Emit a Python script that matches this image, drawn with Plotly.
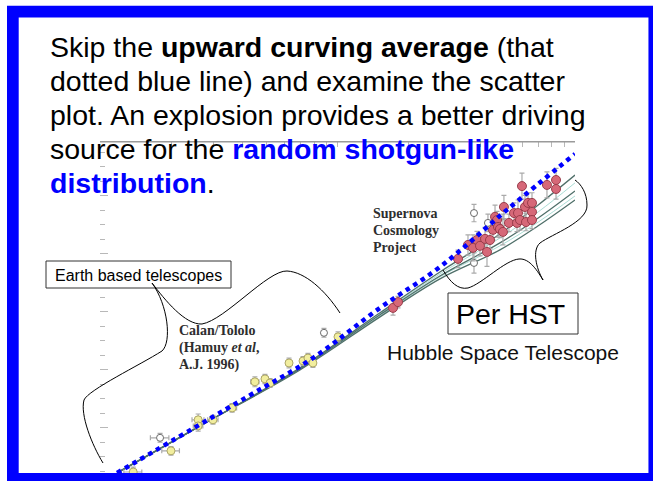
import plotly.graph_objects as go

W, H = 653, 481

# Calan/Tololo (Hamuy et al. 1996): красное смещение и эффективная величина
ct_z = [0.0138, 0.0199, 0.0259, 0.0259, 0.0299, 0.0360, 0.0449, 0.0495, 0.0520,
        0.0625, 0.0716, 0.0751, 0.0788, 0.1005]
ct_m = [14.48, 15.21, 16.28, 16.07, 16.28, 16.69, 17.59, 17.69, 17.55,
        18.24, 18.31, 18.41, 18.24, 19.14]
ct_dm = [0.17, 0.15, 0.20, 0.18, 0.15, 0.15, 0.17, 0.16, 0.15, 0.17, 0.15, 0.16, 0.15, 0.17]
ct_dz = [0.0012, 0.0017, 0.0015, 0.0012, 0.0015, 0.0016, 0.0018, 0.0016, 0.0015,
         0.0016, 0.0017, 0.0016, 0.0016, 0.0018]

# исключённые сверхновые (пустые кружки)
op_z = [0.0179, 0.0877, 0.3756, 0.3756, 0.430, 0.4973]
op_m = [15.66, 19.28, 23.41, 21.69, 23.07, 23.07]
op_dm = [0.15, 0.15, 0.30, 0.35, 0.30, 0.30]
op_dz = [0.0016, 0.0016, 0.0, 0.0, 0.0, 0.0]

# Supernova Cosmology Project
scp_z = [0.1713, 0.1798, 0.3217, 0.3543, 0.3720, 0.3867, 0.398, 0.418, 0.426, 0.4387,
         0.4516, 0.4605, 0.4695, 0.474, 0.483, 0.4973, 0.502, 0.527, 0.5536, 0.5699,
         0.5754, 0.5866, 0.598, 0.6158, 0.6218, 0.634, 0.659, 0.659, 0.659, 0.762,
         0.832, 0.832]
scp_m = [20.14, 20.34, 21.83, 22.31, 22.21, 22.48, 22.28, 22.52, 22.07, 22.48,
         22.83, 23.28, 23.17, 22.93, 22.86, 22.76, 23.62, 23.07, 23.41, 23.07,
         23.41, 23.17, 24.34, 23.62, 23.10, 23.76, 23.45, 23.76, 23.17, 24.38,
         24.55, 24.24]
scp_dm = [0.25, 0.20, 0.30, 0.35, 0.45, 0.30, 0.35, 0.40, 0.50, 0.30,
          0.35, 0.40, 0.30, 0.35, 0.30, 0.45, 0.40, 0.30, 0.35, 0.30,
          0.45, 0.35, 0.45, 0.40, 0.30, 0.35, 0.40, 0.35, 0.30, 0.45,
          0.40, 0.35]

# модельные кривые космологий
model_z = [0.0118, 0.0264, 0.0695, 0.151, 0.270, 0.483, 0.70, 1.0]
model_a = [14.45, 16.07, 18.07, 19.97, 21.38, 22.69, 23.69, 24.72]
model_b = [14.45, 16.07, 18.03, 19.90, 21.24, 22.38, 23.24, 24.17]
model_c = [14.45, 16.07, 18.00, 19.83, 21.14, 22.14, 22.97, 23.86]
model_l1 = [14.45, 16.07, 18.05, 19.93, 21.31, 22.55, 23.45, 24.45]
model_l2 = [14.45, 16.07, 18.02, 19.86, 21.21, 22.28, 23.10, 24.00]

# «загибающееся вверх среднее», синий пунктир
avg_z = [0.0118, 0.0416, 0.0788, 0.151, 0.270, 0.517, 1.0]
avg_m = [14.45, 17.07, 18.41, 20.14, 21.55, 23.52, 25.45]

SANS = "Liberation Sans, Arial, sans-serif"
SERIF = "Liberation Serif, Times New Roman, serif"
BLUE = "#0000ff"
TICK = "#b8b8b8"

fig = go.Figure()

for vals, color, width in ((model_l1, "#a9dcd4", 1), (model_l2, "#a9dcd4", 1),
                           (model_a, "#4f6f69", 1.3), (model_b, "#4f6f69", 1.3),
                           (model_c, "#4f6f69", 1.3)):
    fig.add_trace(go.Scatter(x=model_z, y=vals, mode="lines",
                             line=dict(color=color, width=width, shape="spline"),
                             hoverinfo="skip"))

err = dict(type="data", color="#aaaaaa", thickness=1.2, width=2.5)

fig.add_trace(go.Scatter(
    x=ct_z, y=ct_m, mode="markers",
    error_y=dict(err, array=ct_dm), error_x=dict(err, array=ct_dz),
    marker=dict(size=8, color="#f2ee9e", line=dict(color="#aca666", width=1)),
))
fig.add_trace(go.Scatter(
    x=op_z, y=op_m, mode="markers",
    error_y=dict(err, array=op_dm), error_x=dict(err, array=op_dz),
    marker=dict(size=7, color="white", line=dict(color="#6a6a6a", width=1)),
))
fig.add_trace(go.Scatter(
    x=scp_z, y=scp_m, mode="markers",
    error_y=dict(err, array=scp_dm),
    marker=dict(size=9, color="#d66878", line=dict(color="#9a3d4b", width=1)),
))
fig.add_trace(go.Scatter(
    x=avg_z, y=avg_m, mode="lines",
    line=dict(color=BLUE, width=4.5, dash="dot", shape="spline"),
))
# пустой след для оси оформления (пиксельные координаты слайда)
fig.add_trace(go.Scatter(x=[], y=[], xaxis="x2", yaxis="y2", hoverinfo="skip"))

m_top = 25.86
m_bottom = 14.17
fig.update_layout(
    width=W, height=H, autosize=False,
    margin=dict(l=0, r=0, t=0, b=0),
    paper_bgcolor="white", plot_bgcolor="rgba(0,0,0,0)",
    showlegend=False,
    xaxis=dict(type="log", range=[-2, 0], domain=[100 / W, 575 / W],
               showgrid=False, zeroline=False, showticklabels=False,
               showline=True, linecolor="#999999", mirror="ticks",
               ticks="inside", ticklen=5, tickcolor=TICK, dtick="D1"),
    yaxis=dict(range=[m_bottom, m_top], domain=[0, (H - 142) / H],
               showgrid=False, zeroline=False, showticklabels=False, showline=False,
               ticks="inside", ticklen=8, tickcolor=TICK, tick0=0, dtick=2,
               minor=dict(ticks="inside", ticklen=5, tickcolor=TICK, dtick=0.5)),
    yaxis3=dict(range=[m_bottom, m_top], overlaying="y", side="right", anchor="x",
                showgrid=False, zeroline=False, showticklabels=False,
                showline=True, linecolor="#aaaaaa",
                ticks="inside", ticklen=9, tickcolor=TICK, tick0=0, dtick=2,
                minor=dict(ticks="inside", ticklen=5, tickcolor=TICK, dtick=0.5)),
    xaxis2=dict(domain=[0, 1], range=[0, W], visible=False, anchor="y2", fixedrange=True),
    yaxis2=dict(domain=[0, 1], range=[H, 0], visible=False, anchor="x2", fixedrange=True),
)

deco = dict(xref="x2", yref="y2", layer="above")
shapes = [
    # верхняя рамка графика
    dict(type="line", x0=100, y0=142, x1=575, y1=142,
         line=dict(color="#9a9a9a", width=1), xref="x2", yref="y2", layer="below"),
    dict(type="rect", x0=46, y0=261, x1=231, y1=288, fillcolor="white",
         line=dict(color="#333333", width=1), **deco),
    dict(type="rect", x0=448, y0=293, x1=578, y1=334, fillcolor="white",
         line=dict(color="#333333", width=1), **deco),
    # фигурные скобки
    dict(type="path", path="M103,463 C92,445 80,415 84,400 C88,390 140,365 162,351 "
                           "C172,342 168,305 152,283",
         line=dict(color="black", width=1), **deco),
    dict(type="path", path="M152,283 C165,300 185,325 202,324 C225,320 268,270 287,271 "
                           "C305,272 325,290 340,313",
         line=dict(color="black", width=1), **deco),
    dict(type="path", path="M443,270 C450,282 458,290 468,288 C482,284 505,260 519,259 "
                           "C530,258 538,272 543,280",
         line=dict(color="black", width=1), **deco),
    dict(type="path", path="M543,280 C536,268 532,250 540,243 C552,234 588,222 587,205 "
                           "C587,193 581,184 575,180",
         line=dict(color="black", width=1), **deco),
    # синяя рамка слайда
    dict(type="rect", x0=12.85, y0=11.65, x1=654.3, y1=478.8,
         line=dict(color=BLUE, width=11.7), **deco),
]
fig.update_layout(shapes=shapes)

ann = []
body = [
    "Skip the <b>upward curving average</b> (that",
    "dotted blue line) and examine the scatter",
    "plot. An explosion provides a better driving",
    f"source for the <b><span style='color:{BLUE}'>random shotgun-like</span></b>",
    f"<b><span style='color:{BLUE}'>distribution</span></b>.",
]
for i, line in enumerate(body):
    ann.append(dict(text=line, x=48, y=47 + 34 * i, xanchor="left", yanchor="middle",
                    font=dict(family=SANS, size=28.5, color="black")))

for i, line in enumerate(["Supernova", "Cosmology", "Project"]):
    ann.append(dict(text=f"<b>{line}</b>", x=370.7, y=213.3 + 17.2 * i, xanchor="left",
                    yanchor="middle", font=dict(family=SERIF, size=14, color="#2e2e2e")))
for i, line in enumerate(["Calan/Tololo", "(Hamuy <i>et al</i>,", "A.J. 1996)"]):
    ann.append(dict(text=f"<b>{line}</b>", x=177.3, y=330.3 + 17.5 * i, xanchor="left",
                    yanchor="middle", font=dict(family=SERIF, size=14, color="#2e2e2e")))

ann.append(dict(text="Earth based telescopes", x=53, y=275, xanchor="left", yanchor="middle",
                font=dict(family=SANS, size=16, color="black")))
ann.append(dict(text="Per HST", x=510, y=314, xanchor="center", yanchor="middle",
                font=dict(family=SANS, size=28.5, color="black")))
ann.append(dict(text="Hubble Space Telescope", x=385, y=352.7, xanchor="left", yanchor="middle",
                font=dict(family=SANS, size=21, color="#111111")))

for a in ann:
    a.update(xref="x2", yref="y2", showarrow=False)
fig.update_layout(annotations=ann)

# у страницы по умолчанию отступ body 8px, убираем его; панель инструментов не нужна
fig.write_html("out.html", config={"displayModeBar": False},
               post_script="document.body.style.margin='0px';")
